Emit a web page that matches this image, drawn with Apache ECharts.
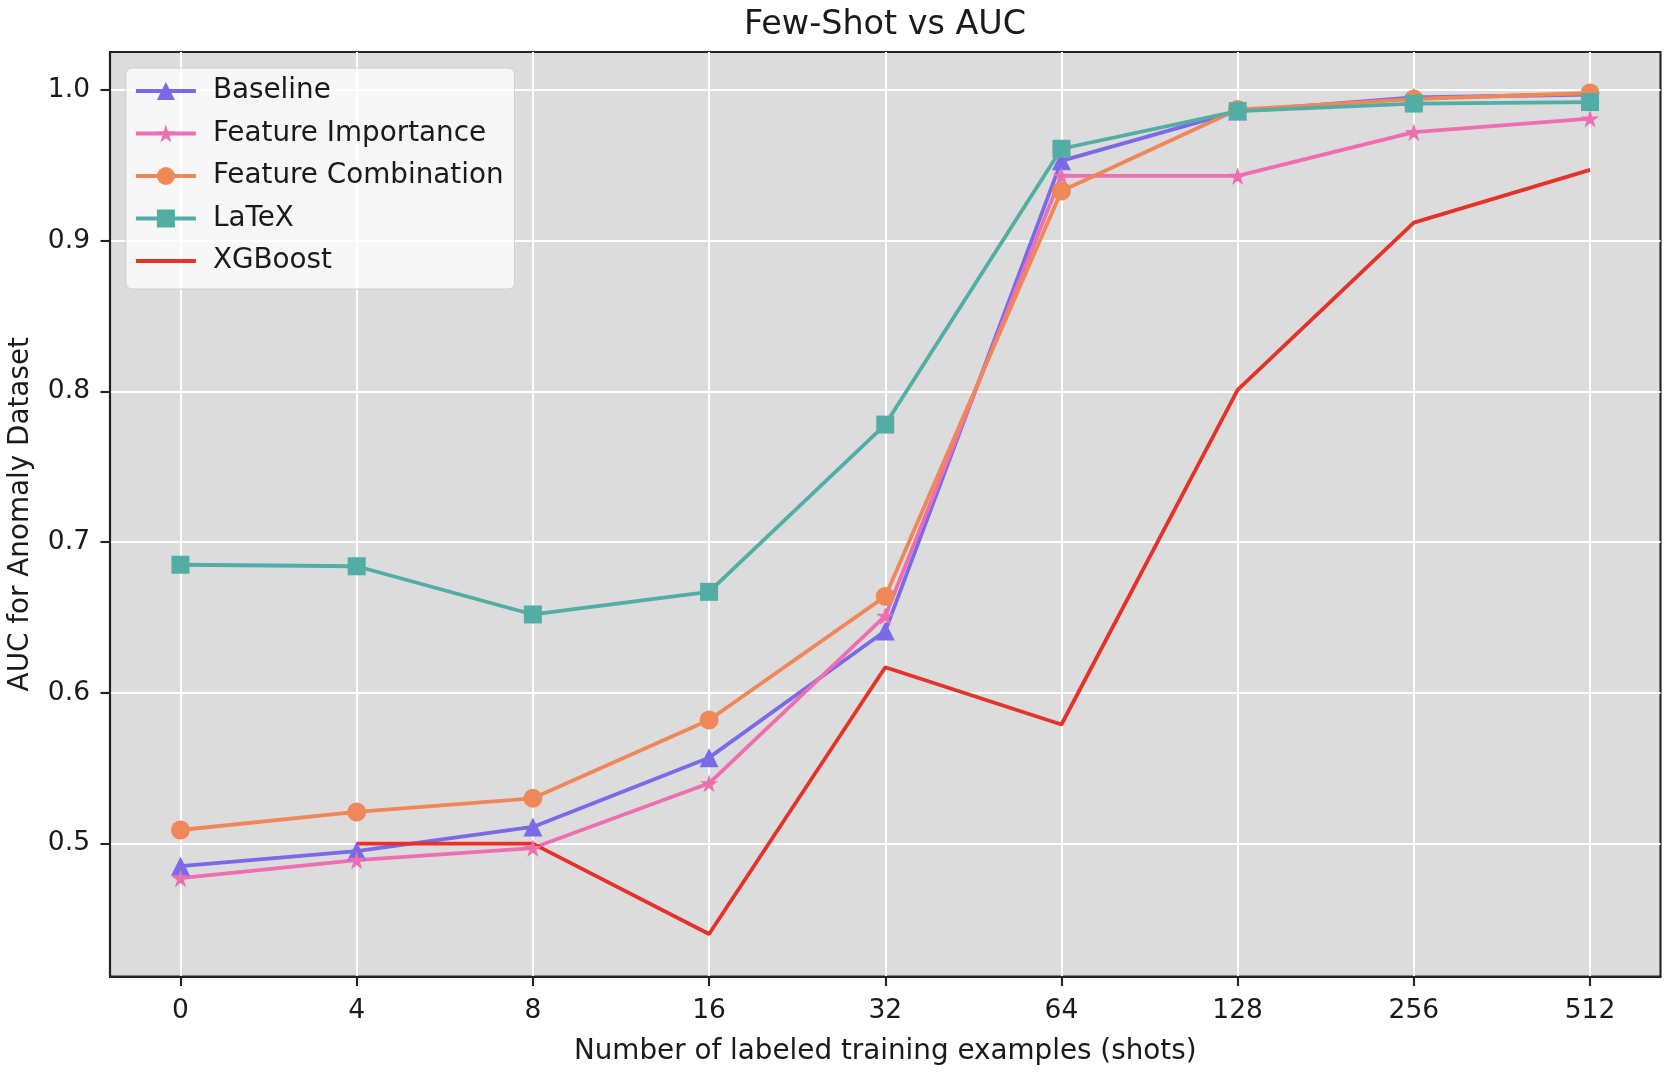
<!DOCTYPE html>
<html>
<head>
<meta charset="utf-8">
<title>Few-Shot vs AUC</title>
<script src="https://cdn.jsdelivr.net/npm/echarts@6/dist/echarts.min.js"></script>
<style>
	html, body { margin: 0; padding: 0; background: #ffffff; }
	#chart { width: 1670px; height: 1072px; }
</style>
</head>
<body>
<div id="chart"></div>
<script>
// shot counts on the x axis (plotted at equal spacing, by index)
var shots = ['0', '4', '8', '16', '32', '64', '128', '256', '512'];
var yTicks = [0.5, 0.6, 0.7, 0.8, 0.9, 1.0];

var baseline = [0.485, 0.495, 0.511, 0.557, 0.641, 0.953, 0.986, 0.995, 0.997];
var featureImportance = [0.477, 0.489, 0.497, 0.540, 0.651, 0.943, 0.943, 0.972, 0.981];
var featureCombination = [0.509, 0.521, 0.530, 0.582, 0.664, 0.933, 0.987, 0.994, 0.998];
var latex = [0.685, 0.684, 0.652, 0.667, 0.778, 0.961, 0.986, 0.991, 0.992];
var xgboost = [null, 0.500, 0.500, 0.440, 0.617, 0.579, 0.801, 0.912, 0.947];

var FONT = 'DejaVu Sans';
var STAR = 'path://M50 0 L61.23 34.55 L97.55 34.55 L68.16 55.9 L79.39 90.45 L50 69.1 L20.61 90.45 L31.84 55.9 L2.45 34.55 L38.77 34.55 Z';
var DASH = 'path://M0 0 L60 0 L60 4 L0 4 Z';

var toPairs = function(values) {
	var out = [];
	for (var i = 0; i < values.length; i ++) {
		if (values[i] !== null) {
			out.push([i, values[i]]);
		}
	}
	return out;
};

var makeSeries = function(name, values, color, symbol, size) {
	return {
		name: name,
		type: 'line',
		data: toPairs(values),
		symbol: symbol,
		symbolSize: size,
		showSymbol: symbol !== 'none',
		lineStyle: { color: color, width: 3.8 },
		itemStyle: { color: color },
		emphasis: { disabled: true }
	};
};

var idx = shots.map(function(s, i) { return i; });

var chart = echarts.init(document.getElementById('chart'), null, { renderer: 'canvas' });
chart.setOption({
	animation: false,
	backgroundColor: '#ffffff',
	title: {
		text: 'Few-Shot vs AUC',
		left: 885,
		top: 9,
		padding: 0,
		textAlign: 'center',
		textStyle: { fontFamily: FONT, fontSize: 33.4, fontWeight: 'normal', color: '#1a1a1a' }
	},
	legend: {
		orient: 'vertical',
		left: 126,
		top: 68,
		padding: [9, 11, 14, 8],
		itemWidth: 60,
		itemHeight: 22.5,
		itemGap: 14.5,
		backgroundColor: 'rgba(255,255,255,0.78)',
		borderColor: '#cfcfcf',
		borderWidth: 1,
		borderRadius: 6,
		lineStyle: { width: 3.8 },
		textStyle: { fontFamily: FONT, fontSize: 27.8, color: '#1a1a1a', padding: [0, 0, 0, 12] },
		data: [
			{ name: 'Baseline' },
			{ name: 'Feature Importance' },
			{ name: 'Feature Combination' },
			{ name: 'LaTeX' },
			{ name: 'XGBoost', icon: DASH }
		]
	},
	grid: {
		left: 110,
		right: 9.5,
		top: 52,
		bottom: 95.5,
		show: true,
		backgroundColor: '#dcdcdc',
		borderColor: '#222222',
		borderWidth: 2.1,
		outerBoundsMode: 'none'
	},
	xAxis: {
		type: 'value',
		min: -0.4,
		max: 8.4,
		name: 'Number of labeled training examples (shots)',
		nameLocation: 'middle',
		nameGap: 61,
		nameTextStyle: { fontFamily: FONT, fontSize: 27.8, color: '#1a1a1a' },
		axisLine: { show: true, onZero: false, lineStyle: { color: '#222222', width: 2.1 } },
		axisTick: { show: true, length: 9.5, customValues: idx, lineStyle: { color: '#222222', width: 2.1 } },
		axisLabel: {
			customValues: idx,
			margin: 21,
			fontFamily: FONT,
			fontSize: 26.5,
			color: '#1a1a1a',
			formatter: function(v) { return shots[Math.round(v)]; }
		},
		splitLine: { show: true, lineStyle: { color: '#ffffff', width: 2 } }
	},
	yAxis: {
		type: 'value',
		min: 0.4118,
		max: 1.0252,
		name: 'AUC for Anomaly Dataset',
		nameLocation: 'middle',
		nameRotate: 90,
		nameGap: 75,
		nameTextStyle: { fontFamily: FONT, fontSize: 27.8, color: '#1a1a1a' },
		axisLine: { show: true, onZero: false, lineStyle: { color: '#222222', width: 2.1 } },
		axisTick: { show: true, length: 9.5, customValues: yTicks, lineStyle: { color: '#222222', width: 2.1 } },
		axisLabel: {
			customValues: yTicks,
			margin: 20,
			fontFamily: FONT,
			fontSize: 26.5,
			color: '#1a1a1a',
			formatter: function(v) { return v.toFixed(1); }
		},
		splitLine: { show: true, lineStyle: { color: '#ffffff', width: 2 } }
	},
	series: [
		makeSeries('Baseline', baseline, '#7a6ae8', 'triangle', 19),
		makeSeries('Feature Importance', featureImportance, '#ee6eb0', STAR, 18),
		makeSeries('Feature Combination', featureCombination, '#ef8759', 'circle', 19),
		makeSeries('LaTeX', latex, '#52aea5', 'rect', 18),
		makeSeries('XGBoost', xgboost, '#e5322a', 'none', 0)
	]
});
</script>
</body>
</html>
